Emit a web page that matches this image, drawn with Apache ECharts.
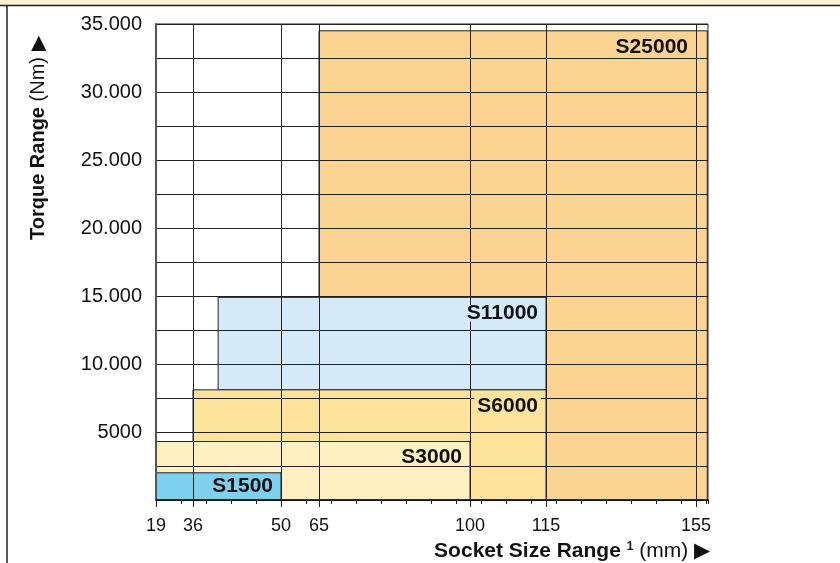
<!DOCTYPE html>
<html>
<head>
<meta charset="utf-8">
<script src="https://cdn.jsdelivr.net/npm/echarts@6/dist/echarts.min.js"></script>
<style>
html,body{margin:0;padding:0;background:#fff;}
#chart{width:840px;height:563px;}
</style>
</head>
<body>
<div id="chart"></div>
<script>
// ---- Data ----
// Socket size tick labels (mm) and their place on the drawn (not-to-scale) axis, in minor-tick units
const socketSizes   = [19, 36, 50, 65, 100, 115, 155];
const socketAxisPos = [0, 1.48, 5, 6.52, 12.56, 15.6, 21.6];
const axisEndPos = 22.08;

// Torque axis ticks
const torqueMin = 0;
const torqueMax = 35000;
const torqueGridStep = 2500;
const torqueLabelStep = 5000;

// Models (drawn in this order)
const models      = ['S25000', 'S11000', 'S6000', 'S3000', 'S1500'];
const sizeFrom    = [65, 40, 36, 19, 19];       // mm
const sizeTo      = [158, 115, 115, 100, 50];   // mm
const torqueFrom  = [0, 8100, 0, 0, 0];         // Nm
const torqueTo    = [34500, 14900, 8100, 4300, 2000]; // Nm
const modelColors = ['#FBD491', '#D5EAF8', '#FEE39A', '#FEF0C1', '#7FCFEF'];

// piecewise mapping of a socket size (mm) onto the drawn axis
function sizeToAxis(mm) {
  const n = socketSizes.length;
  let i = 0;
  while (i < n - 2 && mm > socketSizes[i + 1]) i++;
  const s0 = socketSizes[i], s1 = socketSizes[i + 1];
  const p0 = socketAxisPos[i], p1 = socketAxisPos[i + 1];
  return p0 + (mm - s0) / (s1 - s0) * (p1 - p0);
}

const boxData = models.map((m, i) => [
  sizeToAxis(sizeFrom[i]), sizeToAxis(sizeTo[i]), torqueFrom[i], torqueTo[i], m
]);
const lastTickPos = socketAxisPos[socketAxisPos.length - 1];

const FONT = '"Liberation Sans", Arial, Helvetica, sans-serif';
const chart = echarts.init(document.getElementById('chart'));

chart.setOption({
  animation: false,
  backgroundColor: '#fff',
  grid: { left: 156, right: 132, top: 24, bottom: 63, show: true, borderColor: '#222', borderWidth: 1, backgroundColor: 'transparent', z: 0 },
  xAxis: [
    {
      type: 'value', min: 0, max: axisEndPos, interval: 1, position: 'bottom', z: 6,
      axisLine: { show: true, onZero: false, lineStyle: { color: '#111', width: 1.5 } },
      axisTick: { show: true, length: 4, lineStyle: { color: '#222', width: 1 } },
      axisLabel: { show: false },
      splitLine: { show: false }
    },
    {
      type: 'value', min: 0, max: axisEndPos, position: 'bottom', z: 6,
      axisLine: { show: false },
      axisTick: { show: true, length: 7, customValues: socketAxisPos, lineStyle: { color: '#222', width: 1 } },
      axisLabel: {
        show: true, customValues: socketAxisPos, margin: 17,
        color: '#111', fontFamily: FONT, fontSize: 18,
        formatter: v => { const k = socketAxisPos.indexOf(v); return k >= 0 ? String(socketSizes[k]) : ''; }
      },
      splitLine: { show: true, lineStyle: { color: '#222', width: 1 } }
    }
  ],
  yAxis: {
    type: 'value', min: torqueMin, max: torqueMax, interval: torqueGridStep, z: 6,
    axisLine: { show: true, lineStyle: { color: '#555', width: 2 } },
    axisTick: { show: false },
    axisLabel: {
      color: '#111', fontFamily: FONT, fontSize: 20, margin: 14,
      formatter: v => {
        if (v === 0 || v % torqueLabelStep !== 0) return '';
        if (v < 10000) return String(v);
        return String(v).replace(/\B(?=(\d{3})+(?!\d))/g, '.');
      }
    },
    splitLine: { show: true, lineStyle: { color: '#222', width: 1 } }
  },
  series: [
    {
      type: 'custom', name: 'boxes', z: 1, xAxisIndex: 0,
      data: boxData,
      renderItem: (params, api) => {
        const p0 = api.coord([api.value(0), api.value(3)]);
        const p1 = api.coord([api.value(1), api.value(2)]);
        return {
          type: 'rect',
          shape: { x: p0[0], y: p0[1], width: p1[0] - p0[0], height: p1[1] - p0[1] },
          style: { fill: modelColors[params.dataIndex], stroke: '#222', lineWidth: 1 }
        };
      }
    },
    {
      type: 'custom', name: 'labels', z: 10, xAxisIndex: 0,
      data: boxData,
      renderItem: (params, api) => {
        const right = Math.min(api.value(1), lastTickPos);
        const pTop = api.coord([right, api.value(3)]);
        const pBot = api.coord([right, api.value(2)]);
        const y = Math.min(pTop[1] + 16, (pTop[1] + pBot[1]) / 2);
        return {
          type: 'text',
          x: pTop[0] - 5, y: y,
          style: {
            text: models[params.dataIndex],
            fill: '#111', font: 'bold 21px ' + FONT,
            align: 'right', verticalAlign: 'middle', lineHeight: 17,
            backgroundColor: modelColors[params.dataIndex], padding: [0, 3]
          }
        };
      }
    }
  ],
  graphic: [
    { type: 'rect', shape: { x: 0, y: 0, width: 840, height: 5 }, style: { fill: '#FFF3D4' }, z: 20 },
    { type: 'line', shape: { x1: 0, y1: 5.5, x2: 840, y2: 5.5 }, style: { stroke: '#222', lineWidth: 1.5 }, z: 20 },
    { type: 'line', shape: { x1: 7, y1: 5, x2: 7, y2: 563 }, style: { stroke: '#222', lineWidth: 1.5 }, z: 20 },
    {
      type: 'text', x: 710, y: 551, z: 20,
      style: {
        text: '{b|Socket Size Range }{s|1}{r| (mm) ▶}',
        align: 'right', verticalAlign: 'middle',
        rich: {
          b: { font: 'bold 21px ' + FONT, fill: '#111' },
          s: { font: 'bold 12px ' + FONT, fill: '#111', verticalAlign: 'top', padding: [0, 0, 7, 0] },
          r: { font: '21px ' + FONT, fill: '#111' }
        }
      }
    },
    {
      type: 'text', x: 38, y: 240, rotation: Math.PI / 2, z: 20,
      style: {
        text: '{b|Torque Range}{r| (Nm) ▶}',
        align: 'left', verticalAlign: 'middle',
        rich: {
          b: { font: 'bold 20px ' + FONT, fill: '#111' },
          r: { font: '20px ' + FONT, fill: '#111' }
        }
      }
    }
  ]
});
</script>
</body>
</html>
